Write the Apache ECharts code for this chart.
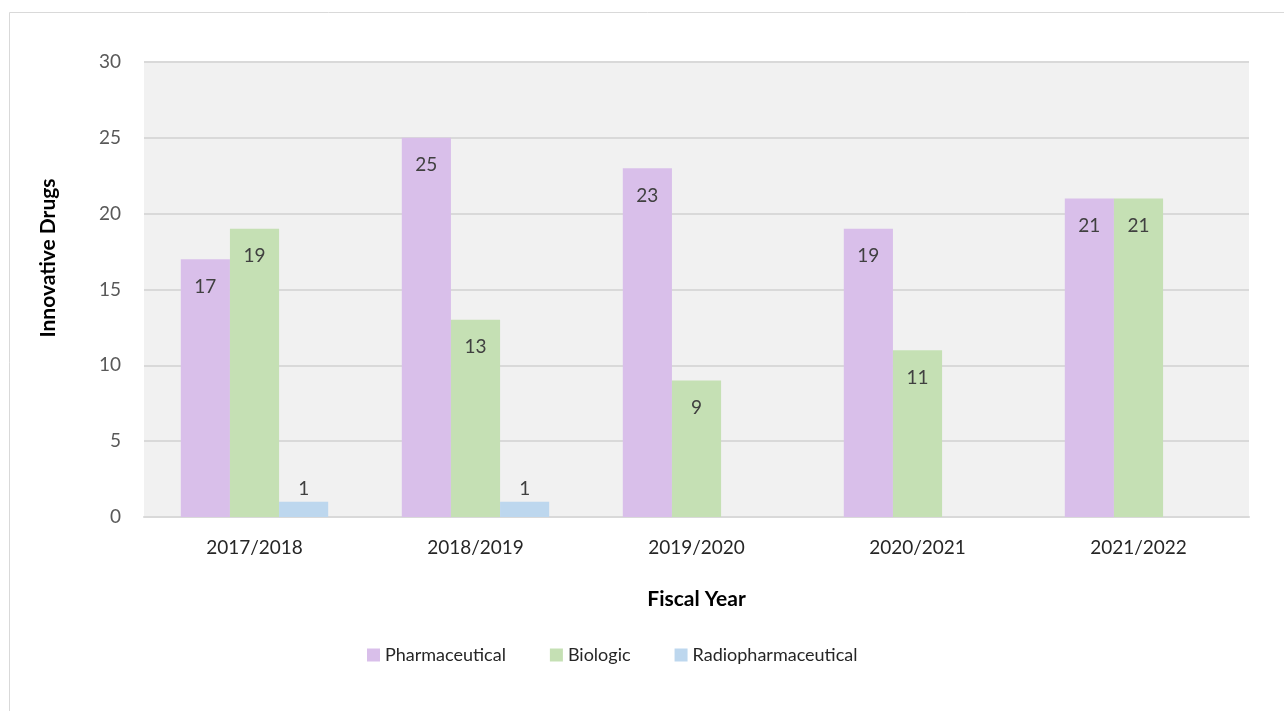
<!DOCTYPE html>
<html>
<head>
<meta charset="utf-8">
<script src="https://cdn.jsdelivr.net/npm/echarts@6/dist/echarts.min.js"></script>
<style>
  html, body { margin: 0; padding: 0; background: #fff; }
  #chart { width: 1284px; height: 711px; }
</style>
</head>
<body>
<div id="chart"></div>
<script>
var years = ['2017/2018', '2018/2019', '2019/2020', '2020/2021', '2021/2022'];
var pharmaceutical = [17, 25, 23, 19, 21];
var biologic = [19, 13, 9, 11, 21];
var radiopharmaceutical = [1, 1, 0, 0, 0];
var yTicks = [0, 5, 10, 15, 20, 25, 30];

var FONT = 'Lato';

// label inside the bar top, or above it when the bar is too short
function toData(values) {
  return values.map(function (v) {
    if (v > 0 && v < 3) {
      return { value: v, label: { position: 'top', distance: 3 } };
    }
    return v;
  });
}

function makeSeries(name, values, color) {
  return {
    name: name,
    type: 'bar',
    data: toData(values),
    barGap: '0%',
    barCategoryGap: '33.3%',
    itemStyle: { color: color },
    label: {
      show: true,
      position: 'insideTop',
      distance: 18,
      color: '#404040',
      fontSize: 19,
      fontFamily: FONT,
      formatter: function (p) { return p.value === 0 ? '' : p.value; }
    }
  };
}

var chart = echarts.init(document.getElementById('chart'));
var option = {
  backgroundColor: '#ffffff',
  animation: false,
  textStyle: { fontFamily: FONT },
  grid: {
    left: 144,
    right: 35,
    top: 62,
    bottom: 194,
    show: true,
    backgroundColor: '#f1f1f1',
    borderWidth: 0
  },
  graphic: [
    {
      type: 'rect',
      shape: { x: 9.5, y: 12.5, width: 1400, height: 800 },
      style: { fill: 'none', stroke: '#d9d9d9', lineWidth: 1 }
    },
    {
      type: 'text',
      x: 48,
      y: 258,
      rotation: Math.PI / 2,
      style: {
        text: 'Innovative Drugs',
        font: 'bold 21px ' + FONT,
        fill: '#000',
        align: 'center',
        verticalAlign: 'middle'
      }
    }
  ],
  legend: {
    left: 362,
    top: 641,
    itemWidth: 13,
    itemHeight: 13,
    itemGap: 44,
    icon: 'rect',
    textStyle: { fontSize: 18, color: '#262626', fontFamily: FONT },
    data: ['Pharmaceutical', 'Biologic', 'Radiopharmaceutical']
  },
  xAxis: {
    type: 'category',
    data: years,
    name: 'Fiscal Year',
    nameLocation: 'middle',
    nameGap: 72,
    nameTextStyle: { fontSize: 21, fontWeight: 'bold', color: '#000', fontFamily: FONT },
    axisLine: { lineStyle: { color: '#d9d9d9', width: 2 } },
    axisTick: { show: false },
    axisLabel: { fontSize: 19, color: '#262626', margin: 21, fontFamily: FONT }
  },
  yAxis: {
    type: 'value',
    min: yTicks[0],
    max: yTicks[yTicks.length - 1],
    interval: 5,
    axisLine: { show: false },
    axisTick: { show: false },
    splitLine: { lineStyle: { color: '#d9d9d9', width: 2 } },
    axisLabel: { fontSize: 19, color: '#595959', margin: 23, fontFamily: FONT }
  },
  series: [
    makeSeries('Pharmaceutical', pharmaceutical, '#d9bfea'),
    makeSeries('Biologic', biologic, '#c5e0b4'),
    makeSeries('Radiopharmaceutical', radiopharmaceutical, '#bdd7ee')
  ]
};
chart.setOption(option);
</script>
</body>
</html>
